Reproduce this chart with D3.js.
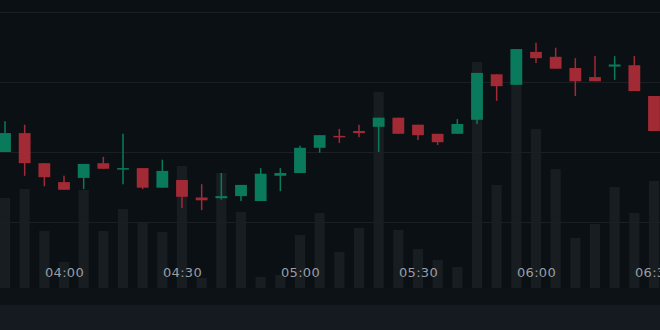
<!DOCTYPE html>
<html>
<head>
<meta charset="utf-8">
<script src="https://cdn.jsdelivr.net/npm/d3@7"></script>
<style>
  html, body { margin: 0; padding: 0; background: #0b1014; overflow: hidden; }
  .gridLines { stroke: #1a1f24; stroke-width: 1; shape-rendering: crispEdges; }
  .volume { fill: #181d22; }
  .timeLabel { fill: #9a9ea5; font-family: "DejaVu Sans", sans-serif; font-size: 13px; letter-spacing: 0.3px; }
</style>
</head>
<body>
<script>
(function(){

//5 minute candles, one entry per bar
var times = ["03:45", "03:50", "03:55", "04:00", "04:05", "04:10", "04:15", "04:20", "04:25",
             "04:30", "04:35", "04:40", "04:45", "04:50", "04:55", "05:00", "05:05", "05:10",
             "05:15", "05:20", "05:25", "05:30", "05:35", "05:40", "05:45", "05:50", "05:55",
             "06:00", "06:05", "06:10", "06:15", "06:20", "06:25", "06:30"];

var opens  = [102.00, 102.27, 101.84, 101.57, 101.63, 101.84, 101.75, 101.77, 101.49, 101.60,
              101.35, 101.34, 101.37, 101.30, 101.66, 101.70, 102.06, 102.23, 102.30, 102.36,
              102.49, 102.39, 102.26, 102.26, 102.46, 103.11, 102.96, 103.43, 103.36, 103.20,
              103.07, 103.22, 103.24, 102.80];
var highs  = [102.44, 102.39, 101.84, 101.66, 101.83, 101.93, 102.26, 101.77, 101.89, 101.60,
              101.54, 101.70, 101.53, 101.77, 101.77, 102.09, 102.24, 102.33, 102.39, 102.49,
              102.49, 102.39, 102.26, 102.47, 103.13, 103.11, 103.47, 103.56, 103.49, 103.34,
              103.37, 103.37, 103.37, 102.80];
var lows   = [102.00, 101.66, 101.51, 101.46, 101.47, 101.76, 101.54, 101.47, 101.49, 101.20,
              101.17, 101.32, 101.30, 101.30, 101.44, 101.70, 101.99, 102.13, 102.21, 102.00,
              102.26, 102.17, 102.10, 102.26, 102.40, 102.73, 102.96, 103.27, 103.19, 102.80,
              103.01, 103.03, 102.87, 102.30];
var closes = [102.27, 101.84, 101.64, 101.46, 101.83, 101.76, 101.77, 101.49, 101.73, 101.36,
              101.31, 101.37, 101.53, 101.69, 101.70, 102.06, 102.24, 102.21, 102.27, 102.49,
              102.26, 102.24, 102.14, 102.40, 103.13, 102.94, 103.47, 103.34, 103.19, 103.01,
              103.01, 103.25, 102.87, 102.30];
var volumes = [450, 495, 285, 130, 490, 285, 395, 325, 280, 610,
               50, 575, 380, 55, 65, 265, 375, 180, 300, 980,
               290, 195, 140, 105, 1130, 515, 1040, 795, 595, 250,
               320, 505, 375, 535];

//price grid levels
var priceTicks = [101, 102, 103, 104];

var upColor = "#0a7a5c",
    downColor = "#a12a35";

window.onload = setChart();

function setChart(){

    var width = 660,
        height = 330,
        plotBottom = 288,
        axisBottom = 305;

    var svg = d3.select("body")
        .append("svg")
        .attr("width", width)
        .attr("height", height);

    //bottom panels below the plot
    svg.append("rect")
        .attr("x", 0).attr("y", plotBottom)
        .attr("width", width).attr("height", axisBottom - plotBottom)
        .attr("fill", "#0d1216");
    svg.append("rect")
        .attr("x", 0).attr("y", axisBottom)
        .attr("width", width).attr("height", height - axisBottom)
        .attr("fill", "#151a21");

    var parseTime = d3.timeParse("%H:%M");
    var data = times.map(function(t, i){
        return {
            date: parseTime(t),
            open: opens[i],
            high: highs[i],
            low: lows[i],
            close: closes[i],
            volume: volumes[i]
        };
    });

    var x = d3.scaleTime()
        .domain([data[0].date, data[data.length - 1].date])
        .range([5, 654]);

    var y = d3.scaleLinear()
        .domain([100, 104])
        .range([292, 12]);

    var yVol = d3.scaleLinear()
        .domain([0, 1200])
        .range([plotBottom, 48]);

    var step = x(data[1].date) - x(data[0].date);
    var bodyW = step * 0.6,
        volW = step * 0.52;

    var plot = svg.append("g");

    //volume bars
    plot.selectAll(".volume")
        .data(data)
        .enter()
        .append("rect")
        .attr("class", "volume")
        .attr("x", function(d){ return x(d.date) - volW / 2; })
        .attr("y", function(d){ return yVol(d.volume); })
        .attr("width", volW)
        .attr("height", function(d){ return plotBottom - yVol(d.volume); });

    //horizontal grid
    plot.selectAll(".gridLines")
        .data(priceTicks)
        .enter()
        .append("line")
        .attr("class", "gridLines")
        .attr("x1", 0)
        .attr("x2", width)
        .attr("y1", function(d){ return Math.round(y(d)) + 0.5; })
        .attr("y2", function(d){ return Math.round(y(d)) + 0.5; });

    //time labels
    var xAxis = d3.axisBottom(x)
        .ticks(d3.timeMinute.every(30))
        .tickFormat(d3.timeFormat("%H:%M"))
        .tickSize(0);

    var axis = svg.append("g")
        .attr("transform", "translate(0,268)")
        .call(xAxis);
    axis.select(".domain").remove();
    axis.selectAll("text")
        .attr("class", "timeLabel")
        .attr("fill", null)
        .attr("dy", "0.71em")
        .attr("y", 0);

    //candles
    var candles = plot.selectAll(".candle")
        .data(data)
        .enter()
        .append("g")
        .attr("class", "candle");

    candles.append("line")
        .attr("x1", function(d){ return x(d.date); })
        .attr("x2", function(d){ return x(d.date); })
        .attr("y1", function(d){ return y(d.high); })
        .attr("y2", function(d){ return y(d.low); })
        .attr("stroke", function(d){ return d.close >= d.open ? upColor : downColor; })
        .attr("stroke-width", 1.5);

    candles.append("rect")
        .attr("x", function(d){ return x(d.date) - bodyW / 2; })
        .attr("y", function(d){ return y(Math.max(d.open, d.close)); })
        .attr("width", bodyW)
        .attr("height", function(d){
            return Math.max(1.5, Math.abs(y(d.open) - y(d.close)));
        })
        .attr("fill", function(d){ return d.close >= d.open ? upColor : downColor; });
};

})();
</script>
</body>
</html>
